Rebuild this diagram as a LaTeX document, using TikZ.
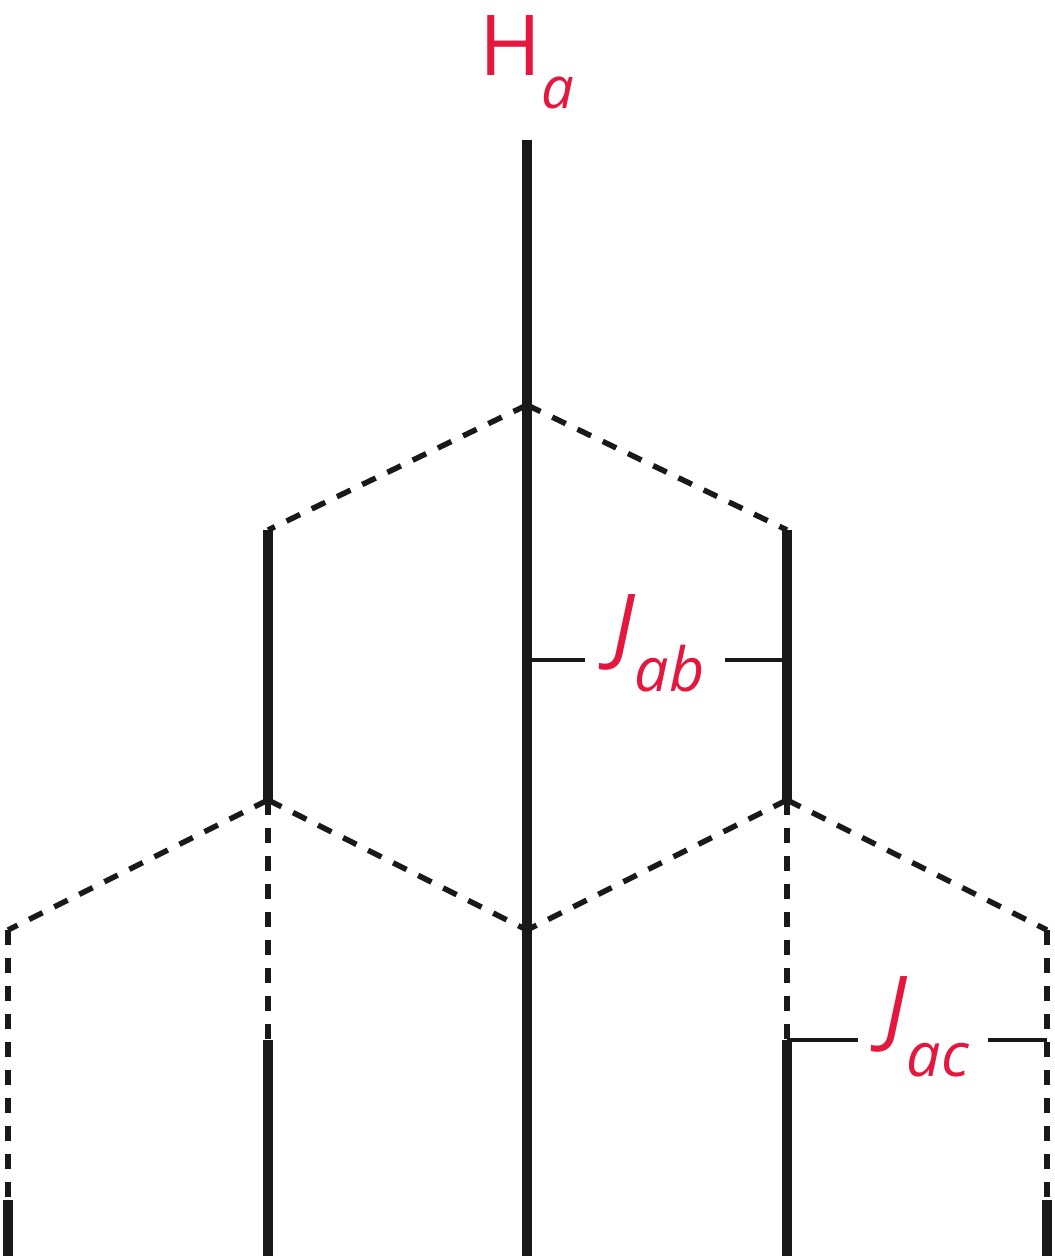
\documentclass[tikz,border=0pt]{standalone}
\usepackage{fontspec}
\setmainfont{Open Sans}
\definecolor{lblred}{RGB}{228,24,62}
\begin{document}
\begin{tikzpicture}[x=1pt,y=-1pt,
  bond/.style={line width=9.5pt,black!90},
  dbond/.style={line width=5.5pt,black!90,dash pattern=on 15pt off 13pt},
  jbar/.style={line width=4.5pt,black!90},
  lbl/.style={inner sep=0pt,text=lblred,anchor=base west}]
\useasboundingbox (0,0) rectangle (1055,1256);
% coordinates
\coordinate (top) at (527,140);
\coordinate (v0) at (527,405);
\coordinate (L1) at (268,530);
\coordinate (R1) at (787,530);
\coordinate (L2) at (268,800);
\coordinate (R2) at (787,800);
\coordinate (C) at (527,930);
\coordinate (LL) at (8,930);
\coordinate (RR) at (1047,930);
\coordinate (L3) at (268,1040);
\coordinate (R3) at (787,1040);
\coordinate (LL3) at (8,1200);
\coordinate (RR3) at (1047,1200);
\coordinate (Cb) at (527,1260);
\coordinate (Lb) at (268,1260);
\coordinate (Rb) at (787,1260);
\coordinate (LLb) at (8,1260);
\coordinate (RRb) at (1047,1260);
% solid bonds
\draw[bond] (top) -- (Cb);
\draw[bond] (L1) -- (L2);
\draw[bond] (R1) -- (R2);
\draw[bond] (L3) -- (Lb);
\draw[bond] (R3) -- (Rb);
\draw[bond] (LL3) -- (LLb);
\draw[bond] (RR3) -- (RRb);
% dashed bonds
\draw[dbond] (v0) -- (L1);
\draw[dbond] (v0) -- (R1);
\draw[dbond] (L2) -- (LL);
\draw[dbond] (L2) -- (C);
\draw[dbond] (R2) -- (C);
\draw[dbond] (R2) -- (RR);
\draw[dbond] (L2) -- (L3);
\draw[dbond] (R2) -- (R3);
\draw[dbond] (LL) -- (LL3);
\draw[dbond] (RR) -- (RR3);
% labels
\node[lbl] (Ha) at (479,75) {\fontsize{84}{84}\selectfont H\raisebox{-33pt}{\fontsize{58}{58}\selectfont\itshape a}};
\node[lbl] (Jab) at (612,654) {\fontsize{84}{84}\selectfont\itshape J\raisebox{-37pt}{\fontsize{61}{61}\selectfont ab}};
\node[lbl] (Jac) at (884,1036) {\fontsize{84}{84}\selectfont\itshape J\raisebox{-40pt}{\fontsize{61}{61}\selectfont ac}};
% coupling bars
\coordinate (jab1) at (527,660);
\coordinate (jabL) at (585,660);
\coordinate (jabR) at (725,660);
\coordinate (jab2) at (787,660);
\coordinate (jac1) at (787,1040);
\coordinate (jacL) at (858,1040);
\coordinate (jacR) at (988,1040);
\coordinate (jac2) at (1047,1040);
\draw[jbar] (jab1) -- (jabL);
\draw[jbar] (jabR) -- (jab2);
\draw[jbar] (jac1) -- (jacL);
\draw[jbar] (jacR) -- (jac2);
\end{tikzpicture}
\end{document}
